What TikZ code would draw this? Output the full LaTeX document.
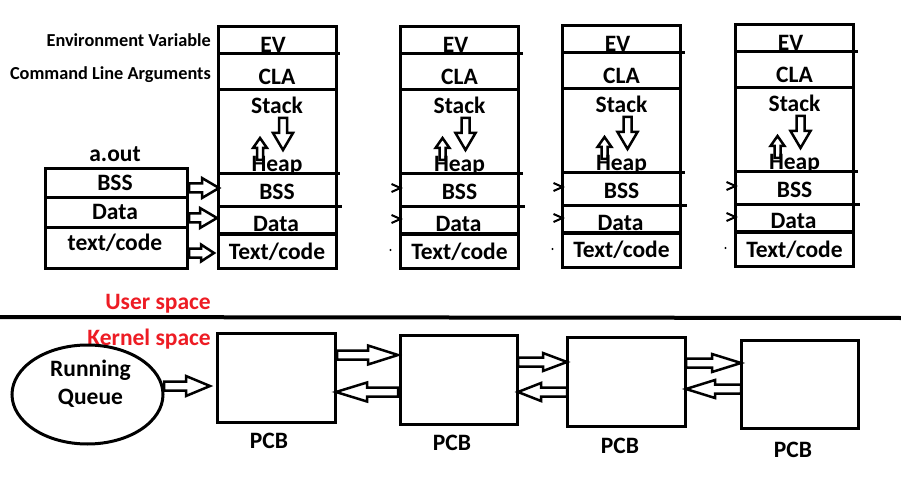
\documentclass[tikz,border=0pt]{standalone}
\usepackage{fontspec}
\setmainfont{Carlito}
\usetikzlibrary{calc,shapes.geometric}
\definecolor{ured}{RGB}{237,28,36}

% hollow block arrow: #1 start, #2 tip, #3 shaft half height, #4 head half height, #5 head length
\newcommand\hollowarr[5]{%
  \coordinate (ha-A) at #1;
  \coordinate (ha-B) at #2;
  \coordinate (ha-H) at ($(ha-B)!#5!(ha-A)$);
  \draw[arrline] ($(ha-A)!#3!90:(ha-B)$) -- ($(ha-H)!#3!-90:(ha-A)$)
    -- ($(ha-H)!#4!-90:(ha-A)$) -- (ha-B) -- ($(ha-H)!#4!90:(ha-A)$)
    -- ($(ha-H)!#3!90:(ha-A)$) -- ($(ha-A)!#3!-90:(ha-B)$) -- cycle;
}

% memory column: #1 name, #2 centre x, #3 top y
\newcommand\memcol[3]{%
  \node[membox] (#1) at (#2,#3+120.5) {};
  \node[txt] at ($(#1.north)+(-4,26)$) {EV};
  \node[txt] at ($(#1.north)+(0,58)$) {CLA};
  \node[txt] at ($(#1.north)+(0,87)$) {Stack};
  \node[txt] at ($(#1.north)+(0,145)$) {Heap};
  \node[txt] at ($(#1.north)+(0,173)$) {BSS};
  \node[txt] at ($(#1.north)+(-1,204)$) {Data};
  \node[txt] at ($(#1.north)+(0,232)$) {Text/code};
  \draw[sep] ($(#1.north west)+(0,27)$) -- ($(#1.north east)+(4,27)$);
  \draw[sep] ($(#1.north west)+(0,63)$) -- ($(#1.north east)+(0,63)$);
  \draw[sep] ($(#1.north west)+(0,147)$) -- ($(#1.north east)+(4,147)$);
  \draw[sep] ($(#1.north west)+(0,180)$) -- ($(#1.north east)+(6,180)$);
  \draw[sep] ($(#1.north west)+(0,207)$) -- ($(#1.north east)+(0,207)$);
  \hollowarr{($(#1.north west)+(65,91)$)}{($(#1.north west)+(65,123)$)}{4pt}{10pt}{17pt}
  \hollowarr{($(#1.north west)+(42,133)$)}{($(#1.north west)+(42,111)$)}{3pt}{7pt}{10pt}
}

% remnant ticks left of a column
\newcommand\colticks[1]{%
  \draw[line width=2pt] ($(#1.north west)+(-9,157)$) -- ($(#1.north west)+(0,161)$) -- ($(#1.north west)+(-9,165)$);
  \draw[line width=2pt] ($(#1.north west)+(-9,188)$) -- ($(#1.north west)+(0,192)$) -- ($(#1.north west)+(-9,196)$);
  \fill ($(#1.north west)+(-10,223)$) circle (1.2pt);
}

\begin{document}
\begin{tikzpicture}[x=1pt,y=-1pt,
  membox/.style={draw, line width=3pt, minimum width=118pt, minimum height=241pt, inner sep=0pt, outer sep=0pt},
  aoutbox/.style={draw, line width=3pt, minimum width=142pt, minimum height=99pt, inner sep=0pt, outer sep=0pt},
  pcbbox/.style={draw, line width=3pt, minimum width=118pt, minimum height=89pt, inner sep=0pt, outer sep=0pt},
  txt/.style={font=\bfseries\fontsize{23.5}{27}\selectfont, inner sep=0pt, anchor=base},
  smalllbl/.style={font=\bfseries\fontsize{18.3}{21}\selectfont, inner sep=0pt, anchor=base east},
  redlbl/.style={font=\bfseries\fontsize{23.5}{27}\selectfont, inner sep=0pt, anchor=base east, text=ured},
  arrline/.style={draw, line width=2.5pt, line join=miter},
  sep/.style={line width=3pt}]
\useasboundingbox (0,0) rectangle (901,486);

% memory columns
\memcol{m1}{277}{27}
\memcol{m2}{459.5}{27}
\memcol{m3}{621.5}{26}
\memcol{m4}{794.5}{25}
\colticks{m2}
\colticks{m3}
\colticks{m4}

\node[smalllbl] (ev) at ($(m1.north west)+(-7,20)$) {Environment Variable};
\node[smalllbl] (cla) at ($(m1.north west)+(-7,53)$) {Command Line Arguments};

% a.out
\node[aoutbox] (aout) at (116,218.5) {};
\draw[sep] ($(aout.north west)+(0,29)$) -- ($(aout.north east)+(0,29)$);
\draw[sep] ($(aout.north west)+(0,59)$) -- ($(aout.north east)+(0,59)$);
\node[txt] (aoutlbl) at ($(aout.north)+(-1,-7)$) {a.out};
\node[txt] at ($(aout.north)+(-1,22)$) {BSS};
\node[txt] at ($(aout.north)+(-1,51)$) {Data};
\node[txt] at ($(aout.north)+(-1,81)$) {text/code};

\hollowarr{($(aout.east)+(2,-30.5)$)}{($(m1.west)+(1,40.5)$)}{4.5pt}{10pt}{17pt}
\hollowarr{($(aout.east)+(2,-0.5)$)}{($(m1.west)+(-1,70.5)$)}{4.5pt}{10pt}{17pt}
\hollowarr{($(aout.east)+(2,34.5)$)}{($(m1.west)+(-4,105.5)$)}{4.5pt}{8.5pt}{13pt}

% divider
\draw[line width=4pt] (0,317) -- (901,318);
\node[redlbl] (us) at (211,309) {User space};
\node[redlbl] (ks) at (211,345) {Kernel space};

% kernel side
\node[draw, ellipse, line width=3pt, minimum width=151pt, minimum height=99pt, inner sep=0pt, outer sep=0pt] (rq) at (87.5,394.5) {};
\node[txt] (rqt1) at ($(rq.center)+(3,-18.5)$) {Running};
\node[txt] (rqt2) at ($(rq.center)+(3,9.5)$) {Queue};

\node[pcbbox] (p1) at (276,377.5) {};
\node[pcbbox, minimum width=117pt] (p2) at (458.5,379.5) {};
\node[pcbbox] (p3) at (626,381.5) {};
\node[pcbbox, minimum width=117pt, minimum height=88pt] (p4) at (799.5,384) {};
\node[txt] at ($(p1.south)+(-7,26)$) {PCB};
\node[txt] at ($(p2.south)+(-6.5,26)$) {PCB};
\node[txt] at ($(p3.south)+(-6,27)$) {PCB};
\node[txt] at ($(p4.south)+(-6.5,29)$) {PCB};

\hollowarr{($(rq.east)+(1,-8.5)$)}{($(p1.west)+(-7,8.5)$)}{4.5pt}{10pt}{24pt}
\hollowarr{($(p1.east)+(2,-22.5)$)}{($(p2.west)+(-2,-24.5)$)}{4.5pt}{9.5pt}{30pt}
\hollowarr{($(p2.west)+(-2,12.5)$)}{($(p1.east)+(1,14.5)$)}{4.5pt}{9.5pt}{31pt}
\hollowarr{($(p2.east)+(1,-17.5)$)}{($(p3.west)+(0,-19.5)$)}{4.5pt}{9pt}{24pt}
\hollowarr{($(p3.west)+(0,10.5)$)}{($(p2.east)+(1,12.5)$)}{4.5pt}{9pt}{23pt}
\hollowarr{($(p3.east)+(1,-18.5)$)}{($(p4.west)+(0,-21)$)}{4.5pt}{9pt}{29pt}
\hollowarr{($(p4.west)+(0,5)$)}{($(p3.east)+(1,7.5)$)}{4.5pt}{9pt}{29pt}
\end{tikzpicture}
\end{document}
